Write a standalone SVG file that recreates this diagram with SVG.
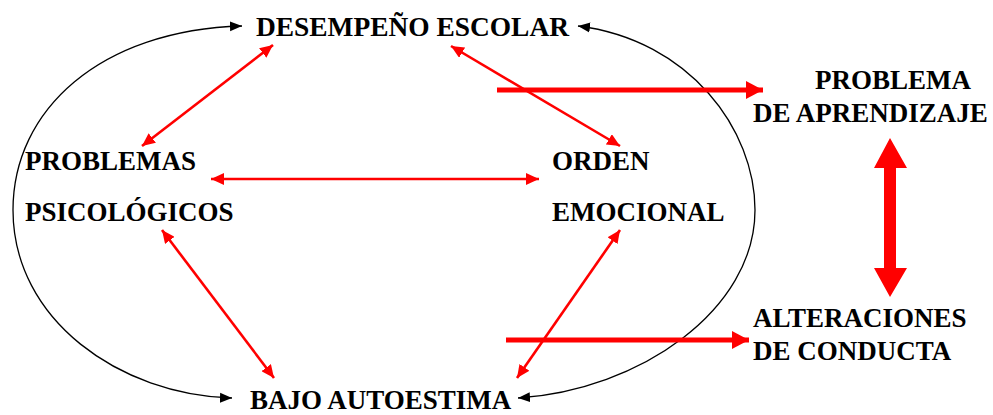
<svg xmlns="http://www.w3.org/2000/svg" width="993" height="415" viewBox="0 0 993 415">
<style>
.t{font-family:'Liberation Serif','Times New Roman',serif;font-weight:700;font-size:27px;fill:#000}
.blk{fill:none;stroke:#000;stroke-width:1.3}
.red{fill:none;stroke:#ff0000;stroke-width:2.6}
.thick{fill:none;stroke:#ff0000;stroke-width:5}
</style>
<defs>
<marker id="ab" markerUnits="userSpaceOnUse" markerWidth="14" markerHeight="12" refX="12" refY="6" orient="auto-start-reverse" viewBox="0 0 14 12"><path d="M0,1 L12,6 L0,11 Z" fill="#000"/></marker>
<marker id="ar" markerUnits="userSpaceOnUse" markerWidth="14" markerHeight="12" refX="13" refY="6" orient="auto-start-reverse" viewBox="0 0 14 12"><path d="M0,0 L13,6 L0,12 Z" fill="#ff0000"/></marker>
<marker id="at" markerUnits="userSpaceOnUse" markerWidth="18" markerHeight="20" refX="17" refY="10" orient="auto-start-reverse" viewBox="0 0 18 20"><path d="M0,1 L17,10 L0,19 Z" fill="#ff0000"/></marker>
</defs>
<g id="connectors">
<path class="blk" d="M232 398 C120 395 13 320 13 210 C13 110 100 30 242 26" marker-start="url(#ab)" marker-end="url(#ab)"/>
<path class="blk" d="M578 26 C690 40 755 130 755 210 C755 310 640 390 518 398" marker-start="url(#ab)" marker-end="url(#ab)"/>
<line class="red" x1="142" y1="146" x2="273" y2="45" marker-start="url(#ar)" marker-end="url(#ar)"/>
<line class="red" x1="451" y1="46" x2="620" y2="146" marker-start="url(#ar)" marker-end="url(#ar)"/>
<line class="red" x1="211" y1="179" x2="539" y2="179" marker-start="url(#ar)" marker-end="url(#ar)"/>
<line class="red" x1="162" y1="230" x2="274" y2="378" marker-start="url(#ar)" marker-end="url(#ar)"/>
<line class="red" x1="620" y1="230" x2="517" y2="378" marker-start="url(#ar)" marker-end="url(#ar)"/>
<line class="thick" x1="497" y1="90" x2="763" y2="90" marker-end="url(#at)"/>
<line class="thick" x1="506" y1="340" x2="749" y2="340" marker-end="url(#at)"/>
<path d="M890 138 L907 168 L896 168 L896 268 L907 268 L890 297 L874 268 L884 268 L884 168 L874 168 Z" fill="#ff0000"/>
</g>
<g id="desempeno"><text class="t" x="256" y="36" textLength="313" lengthAdjust="spacingAndGlyphs">DESEMPEÑO ESCOLAR</text></g>
<g id="problemas"><text class="t" x="25" y="170">PROBLEMAS</text><text class="t" x="25" y="221">PSICOLÓGICOS</text></g>
<g id="orden"><text class="t" x="552" y="170">ORDEN</text><text class="t" x="552" y="221">EMOCIONAL</text></g>
<g id="aprendizaje"><text class="t" x="815" y="89">PROBLEMA</text><text class="t" x="753" y="122">DE APRENDIZAJE</text></g>
<g id="conducta"><text class="t" x="753" y="327">ALTERACIONES</text><text class="t" x="753" y="360">DE CONDUCTA</text></g>
<g id="autoestima"><text class="t" x="250" y="409">BAJO AUTOESTIMA</text></g>
</svg>
